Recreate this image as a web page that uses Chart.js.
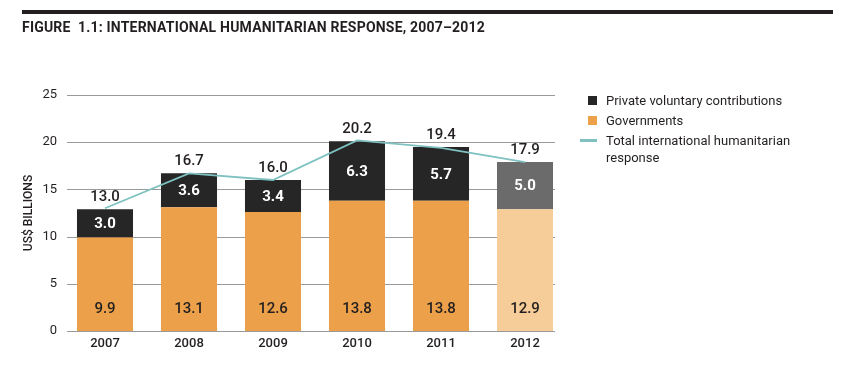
<!DOCTYPE html>
<html>
<head>
<meta charset="utf-8">
<script src="https://cdn.jsdelivr.net/npm/chart.js@4.4.1/dist/chart.umd.min.js"></script>
<style>
  body { margin: 0; background: #fff; font-family: Roboto, "DejaVu Sans", sans-serif; }
  #wrap { position: relative; width: 853px; height: 380px; overflow: hidden; }
  #rule { position: absolute; left: 22px; top: 10px; width: 811px; height: 4px; background: #231f20; }
  #title { position: absolute; left: 22px; top: 19px; font-size: 14px; font-weight: 700; color: #231f20; letter-spacing: 0.2px; }
  #legend { position: absolute; left: 580px; top: 92px; font-size: 13px; color: #231f20; }
  .row { position: relative; height: 20px; line-height: 17px; padding-left: 26px; }
  .sw { position: absolute; left: 8px; top: 4px; width: 9px; height: 9px; }
  .ln { position: absolute; left: 0; top: 7px; width: 17px; height: 3px; }
</style>
</head>
<body>
<div id="wrap">
  <div id="rule"></div>
  <div id="title">FIGURE&nbsp; 1.1: INTERNATIONAL HUMANITARIAN RESPONSE, 2007–2012</div>
  <canvas id="myChart" width="853" height="380"></canvas>
  <div id="legend"></div>
</div>
<script>
const years = ['2007', '2008', '2009', '2010', '2011', '2012'];
const governments = [9.9, 13.1, 12.6, 13.8, 13.8, 12.9];
const privateContrib = [3.0, 3.6, 3.4, 6.3, 5.7, 5.0];
const totals = [13.0, 16.7, 16.0, 20.2, 19.4, 17.9];
const yTicks = [0, 5, 10, 15, 20, 25];

const ORANGE = '#eba049';
const ORANGE_LIGHT = '#f6cd98';
const DARK = '#262626';
const GREY = '#6b6b6b';
const TEAL = '#7fc1c1';
const TEXT = '#231f20';

// 2012 figures are preliminary, drawn in lighter shades
let govColors = years.map(y => y == '2012' ? ORANGE_LIGHT : ORANGE);
let privColors = years.map(y => y == '2012' ? GREY : DARK);

// horizontal grid lines, a bit shorter than the chart area
const gridPlugin = {
    id: 'gridLines',
    beforeDatasetsDraw(chart) {
        const ctx = chart.ctx;
        const ys = chart.scales.y;
        ctx.save();
        ctx.strokeStyle = '#9a9a9a';
        ctx.lineWidth = 1;
        yTicks.forEach(t => {
            let py = Math.round(ys.getPixelForValue(t)) + 0.5;
            ctx.beginPath();
            ctx.moveTo(chart.chartArea.left + 4, py);
            ctx.lineTo(chart.chartArea.right - 12, py);
            ctx.stroke();
        });
        ctx.restore();
    }
};

// value labels on the bars and above the totals
const labelPlugin = {
    id: 'valueLabels',
    afterDatasetsDraw(chart) {
        const ctx = chart.ctx;
        const ys = chart.scales.y;
        ctx.save();
        ctx.textAlign = 'center';
        ctx.textBaseline = 'middle';

        let govMeta = chart.getDatasetMeta(0);
        for (let i = 0; i < years.length; i++) {
            let x = govMeta.data[i].x;
            ctx.font = '500 15px Roboto';
            ctx.fillStyle = TEXT;
            ctx.fillText(governments[i].toFixed(1), x, ys.getPixelForValue(0) - 22);

            let top = ys.getPixelForValue(governments[i] + privateContrib[i]);
            let bottom = ys.getPixelForValue(governments[i]);
            ctx.fillStyle = '#ffffff';
            ctx.font = '700 15px Roboto';
            ctx.fillText(privateContrib[i].toFixed(1), x, (top + bottom) / 2 + 1);

            ctx.font = '500 15px Roboto';
            ctx.fillStyle = TEXT;
            ctx.fillText(totals[i].toFixed(1), x, top - 12);
        }
        ctx.restore();
    }
};

const ctx = document.getElementById('myChart').getContext('2d');
const myChart = new Chart(ctx, {
    type: 'bar',
    data: {
        labels: years,
        datasets: [
            {
                label: 'Governments',
                data: governments,
                backgroundColor: govColors,
                stack: 's',
                order: 2,
                categoryPercentage: 1,
                barPercentage: 0.667
            },
            {
                label: 'Private voluntary contributions',
                data: privateContrib,
                backgroundColor: privColors,
                stack: 's',
                order: 2,
                categoryPercentage: 1,
                barPercentage: 0.667
            },
            {
                type: 'line',
                label: 'Total international humanitarian response',
                data: totals,
                borderColor: TEAL,
                borderWidth: 1.8,
                pointRadius: 0,
                tension: 0,
                order: 1
            }
        ]
    },
    options: {
        responsive: false,
        animation: false,
        layout: { padding: { top: 95, right: 286, bottom: 0, left: 0 } },
        plugins: {
            legend: { display: false },
            tooltip: { enabled: false }
        },
        scales: {
            x: {
                stacked: true,
                offset: true,
                grid: { display: false, drawTicks: false },
                border: { display: false },
                ticks: { color: TEXT, font: { family: 'Roboto', size: 13, weight: '500' }, padding: 5 },
                afterFit: s => { s.height = 49; }
            },
            y: {
                stacked: true,
                min: 0,
                max: 25,
                grid: { display: false, drawTicks: false },
                border: { display: false },
                ticks: { stepSize: 5, color: TEXT, font: { family: 'Roboto', size: 13 }, padding: 6 },
                title: {
                    display: true,
                    text: 'US$ BILLIONS',
                    color: TEXT,
                    font: { family: 'Roboto', size: 12, weight: '500' },
                    padding: { top: 22, bottom: 0 }
                },
                afterFit: s => { s.width = 63; }
            }
        }
    },
    plugins: [gridPlugin, labelPlugin]
});

// legend order as in the figure
let legendItems = [
    { text: 'Private voluntary contributions', color: DARK, line: false },
    { text: 'Governments', color: ORANGE, line: false },
    { text: 'Total international humanitarian<br>response', color: TEAL, line: true }
];
let html = '';
legendItems.forEach(it => {
    html += '<div class="row"><span class="' + (it.line ? 'ln' : 'sw') + '" style="background:' + it.color + '"></span>' + it.text + '</div>';
});
document.getElementById('legend').innerHTML = html;
</script>
</body>
</html>
